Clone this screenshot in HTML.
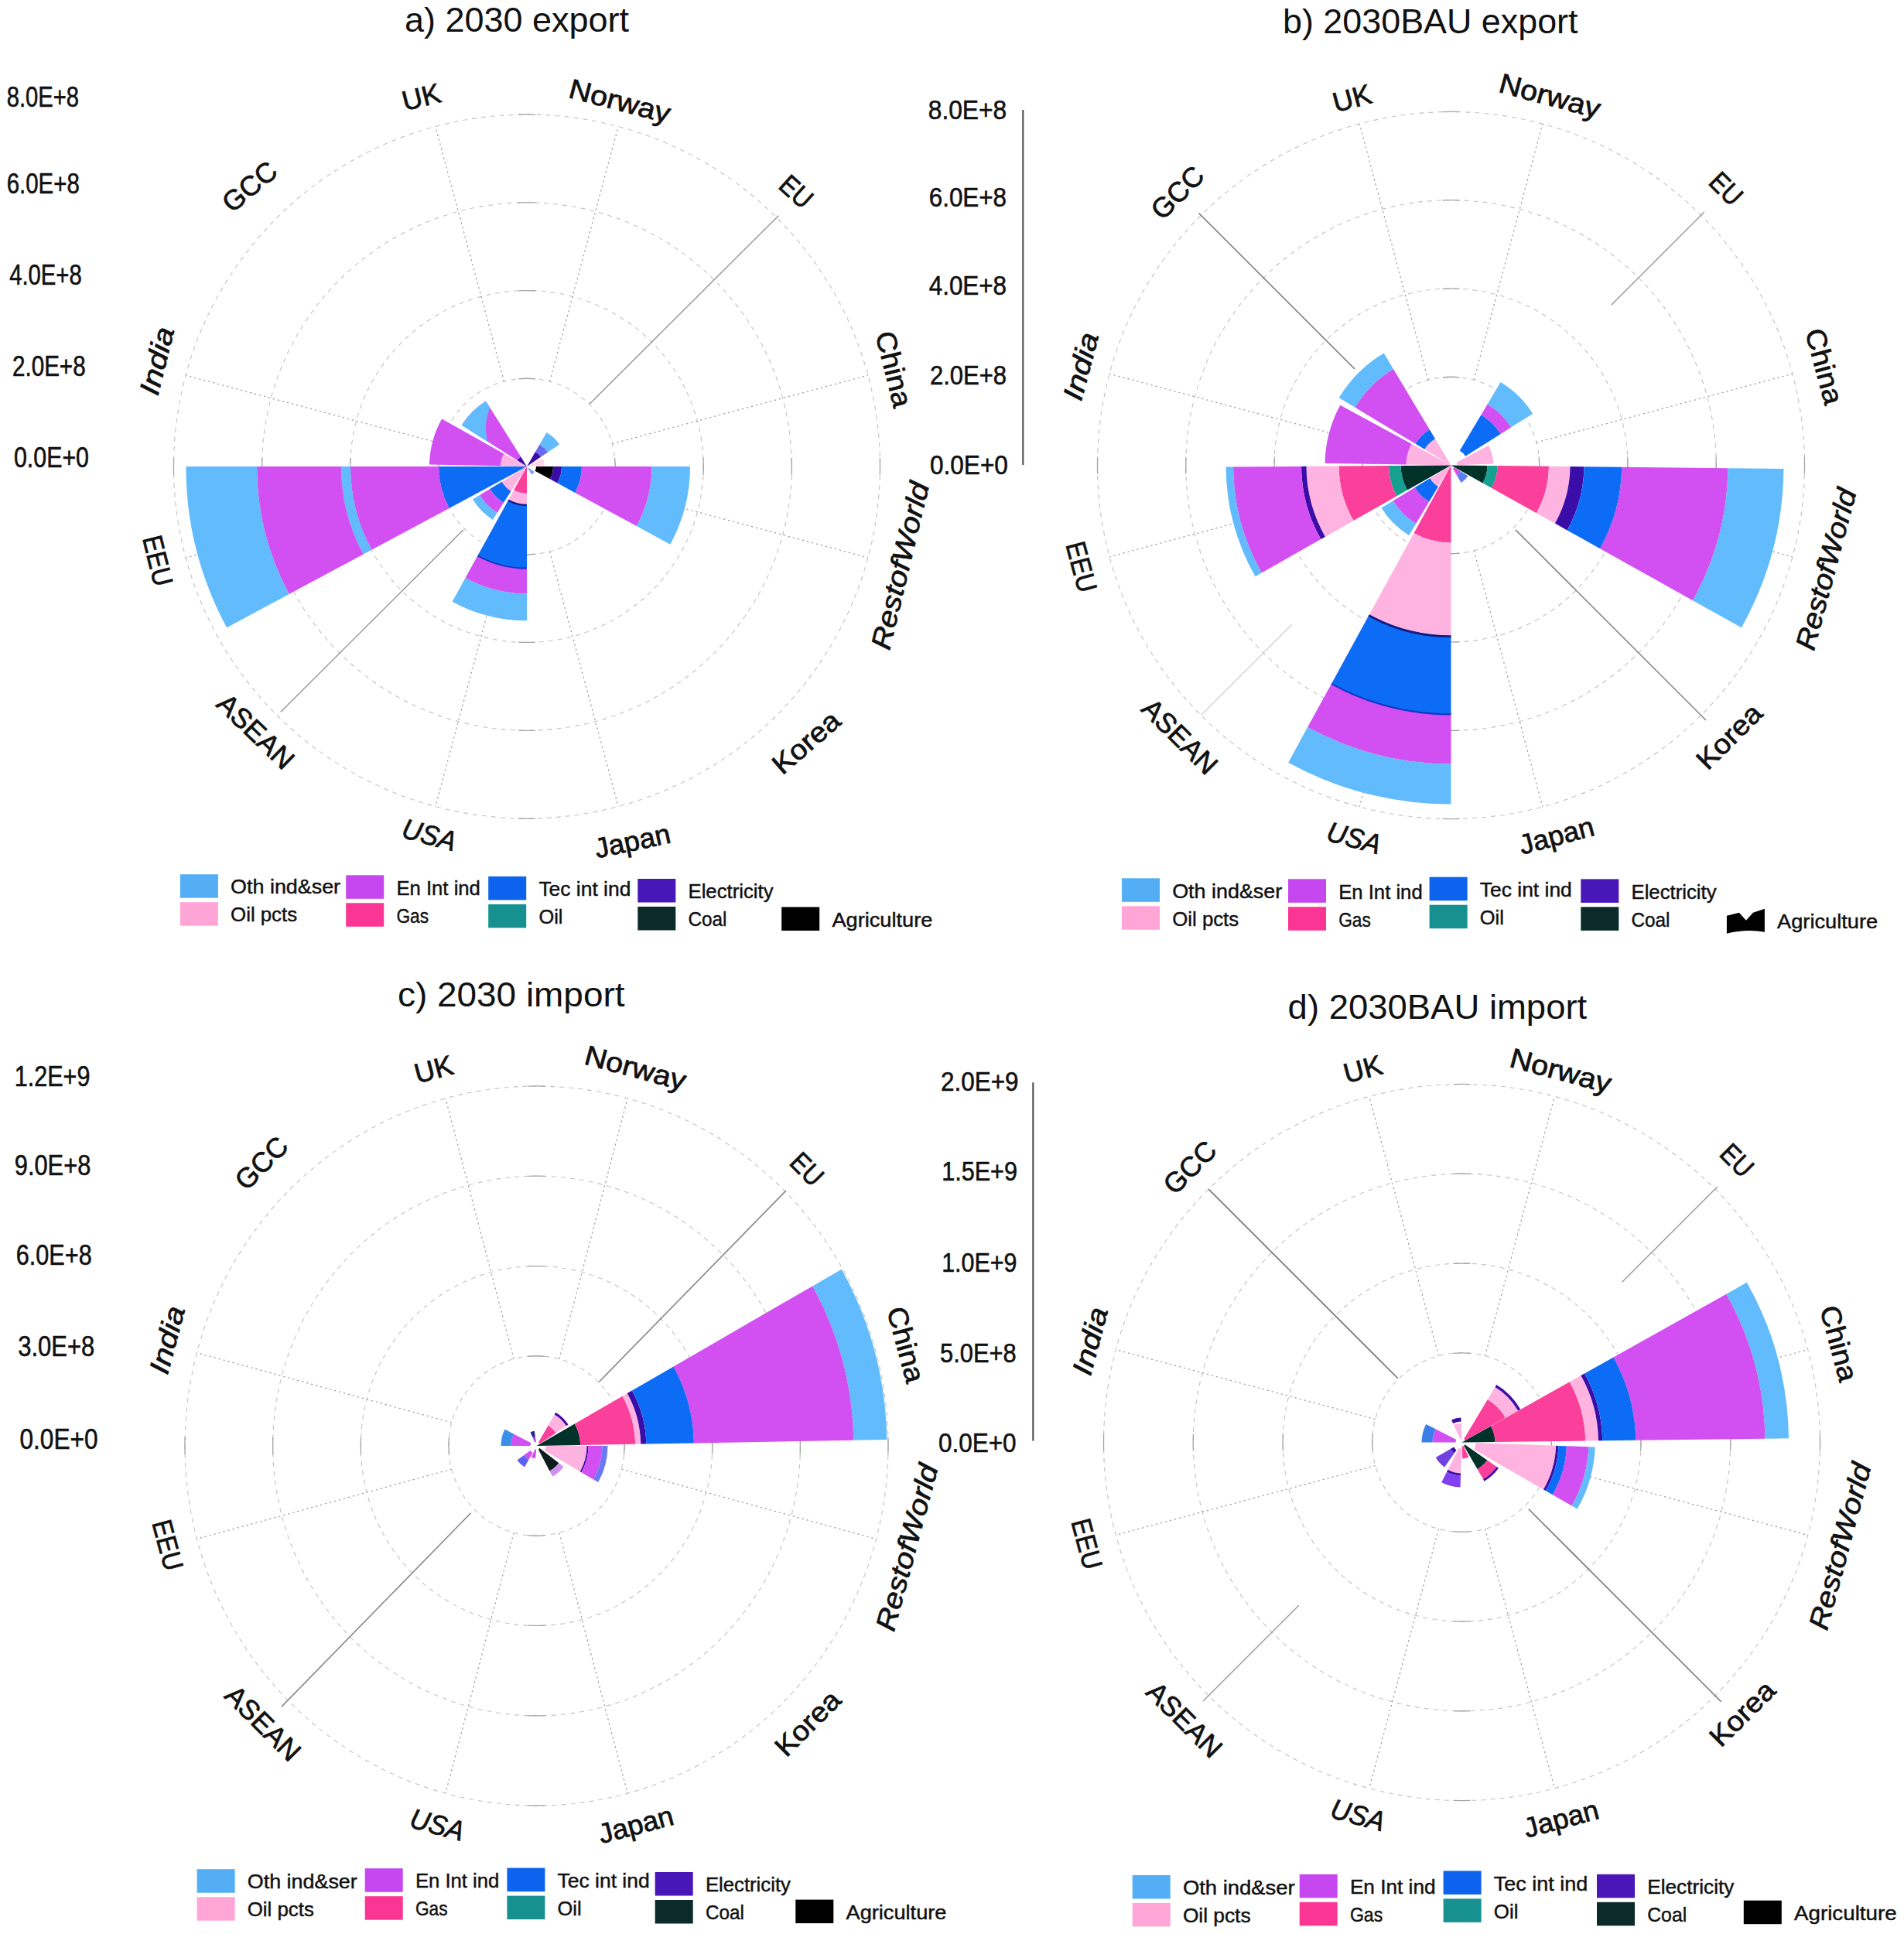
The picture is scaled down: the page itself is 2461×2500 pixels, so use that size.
<!DOCTYPE html>
<html><head><meta charset="utf-8"><title>Trade charts</title>
<style>html,body{margin:0;padding:0;background:#fff}svg{display:block}text{font-family:'Liberation Sans', sans-serif;fill:#111}</style>
</head><body>
<svg width="2461" height="2500" viewBox="0 0 2461 2500">
<defs><filter id="soft" x="-5%" y="-5%" width="110%" height="110%"><feGaussianBlur stdDeviation="0.7"/></filter></defs>
<rect width="2461" height="2500" fill="#fff"/>
<g>
<ellipse cx="681" cy="603" rx="114.1" ry="113.8" fill="none" stroke="#c2c2c2" stroke-width="1.1" stroke-dasharray="6 6"/>
<ellipse cx="681" cy="603" rx="228.2" ry="227.5" fill="none" stroke="#c2c2c2" stroke-width="1.1" stroke-dasharray="6 6"/>
<ellipse cx="681" cy="603" rx="342.4" ry="341.2" fill="none" stroke="#c2c2c2" stroke-width="1.1" stroke-dasharray="6 6"/>
<ellipse cx="681" cy="603" rx="456.5" ry="455.0" fill="none" stroke="#c2c2c2" stroke-width="1.1" stroke-dasharray="6 6"/>
<path d="M670.0,489.8A114.1,113.8 0 0 1 692.0,489.8" fill="none" stroke="#a4a4a4" stroke-width="1.3"/>
<path d="M794.6,592.1A114.1,113.8 0 0 1 794.6,613.9" fill="none" stroke="#a4a4a4" stroke-width="1.3"/>
<path d="M692.0,716.2A114.1,113.8 0 0 1 670.0,716.2" fill="none" stroke="#a4a4a4" stroke-width="1.3"/>
<path d="M567.4,613.9A114.1,113.8 0 0 1 567.4,592.1" fill="none" stroke="#a4a4a4" stroke-width="1.3"/>
<path d="M670.0,375.8A228.2,227.5 0 0 1 692.0,375.8" fill="none" stroke="#a4a4a4" stroke-width="1.3"/>
<path d="M909.0,592.0A228.2,227.5 0 0 1 909.0,614.0" fill="none" stroke="#a4a4a4" stroke-width="1.3"/>
<path d="M692.0,830.2A228.2,227.5 0 0 1 670.0,830.2" fill="none" stroke="#a4a4a4" stroke-width="1.3"/>
<path d="M453.0,614.0A228.2,227.5 0 0 1 453.0,592.0" fill="none" stroke="#a4a4a4" stroke-width="1.3"/>
<path d="M670.0,261.9A342.4,341.2 0 0 1 692.0,261.9" fill="none" stroke="#a4a4a4" stroke-width="1.3"/>
<path d="M1023.2,592.0A342.4,341.2 0 0 1 1023.2,614.0" fill="none" stroke="#a4a4a4" stroke-width="1.3"/>
<path d="M692.0,944.1A342.4,341.2 0 0 1 670.0,944.1" fill="none" stroke="#a4a4a4" stroke-width="1.3"/>
<path d="M338.8,614.0A342.4,341.2 0 0 1 338.8,592.0" fill="none" stroke="#a4a4a4" stroke-width="1.3"/>
<path d="M670.0,148.1A456.5,455.0 0 0 1 692.0,148.1" fill="none" stroke="#a4a4a4" stroke-width="1.3"/>
<path d="M1137.4,592.0A456.5,455.0 0 0 1 1137.4,614.0" fill="none" stroke="#a4a4a4" stroke-width="1.3"/>
<path d="M692.0,1057.9A456.5,455.0 0 0 1 670.0,1057.9" fill="none" stroke="#a4a4a4" stroke-width="1.3"/>
<path d="M224.6,614.0A456.5,455.0 0 0 1 224.6,592.0" fill="none" stroke="#a4a4a4" stroke-width="1.3"/>
<line x1="651.5" y1="493.1" x2="562.8" y2="163.5" stroke="#9e9e9e" stroke-width="1.2" stroke-dasharray="2.4 3.8"/>
<line x1="710.5" y1="493.1" x2="799.2" y2="163.5" stroke="#9e9e9e" stroke-width="1.2" stroke-dasharray="2.4 3.8"/>
<line x1="791.2" y1="573.6" x2="1121.9" y2="485.2" stroke="#9e9e9e" stroke-width="1.2" stroke-dasharray="2.4 3.8"/>
<line x1="791.2" y1="632.4" x2="1121.9" y2="720.8" stroke="#9e9e9e" stroke-width="1.2" stroke-dasharray="2.4 3.8"/>
<line x1="710.5" y1="712.9" x2="799.2" y2="1042.5" stroke="#9e9e9e" stroke-width="1.2" stroke-dasharray="2.4 3.8"/>
<line x1="651.5" y1="712.9" x2="562.8" y2="1042.5" stroke="#9e9e9e" stroke-width="1.2" stroke-dasharray="2.4 3.8"/>
<line x1="570.8" y1="632.4" x2="240.1" y2="720.8" stroke="#9e9e9e" stroke-width="1.2" stroke-dasharray="2.4 3.8"/>
<line x1="570.8" y1="573.6" x2="240.1" y2="485.2" stroke="#9e9e9e" stroke-width="1.2" stroke-dasharray="2.4 3.8"/>
<line x1="762.3" y1="521.9" x2="1006.3" y2="278.8" stroke="#999" stroke-width="1.5"/>
<line x1="599.0" y1="684.8" x2="362.8" y2="920.2" stroke="#999" stroke-width="1.5"/>
<g filter="url(#soft)">
<path d="M681.0,603.0L580.6,656.9A114.0,113.6 0 0 1 567.0,603.0Z" fill="#0f6cf5"/>
<path d="M580.6,656.9L480.3,710.7A228.0,227.3 0 0 1 453.0,603.0L567.0,603.0A114.0,113.6 0 0 0 580.6,656.9Z" fill="#d24ff2"/>
<path d="M480.3,710.7L469.7,716.4A240.0,239.2 0 0 1 441.0,603.0L453.0,603.0A228.0,227.3 0 0 0 480.3,710.7Z" fill="#62bbfc"/>
<path d="M469.7,716.4L373.7,767.9A349.0,347.9 0 0 1 332.0,603.0L441.0,603.0A240.0,239.2 0 0 0 469.7,716.4Z" fill="#d24ff2"/>
<path d="M373.7,767.9L293.1,811.2A440.6,439.2 0 0 1 240.4,603.0L332.0,603.0A349.0,347.9 0 0 0 373.7,767.9Z" fill="#62bbfc"/>
<path d="M681.0,603.0L681.0,637.9A35.0,34.9 0 0 1 664.1,633.6Z" fill="#fb3f9c"/>
<path d="M681.0,637.9L681.0,652.8A50.0,49.8 0 0 1 656.9,646.7L664.1,633.6A35.0,34.9 0 0 0 681.0,637.9Z" fill="#ffb3e0"/>
<path d="M681.0,652.8L681.0,734.6A132.0,131.6 0 0 1 617.4,718.3L656.9,646.7A50.0,49.8 0 0 0 681.0,652.8Z" fill="#0f6cf5"/>
<path d="M681.0,734.6L681.0,767.5A165.0,164.5 0 0 1 601.5,747.1L617.4,718.3A132.0,131.6 0 0 0 681.0,734.6Z" fill="#d24ff2"/>
<path d="M681.0,767.5L681.0,802.3A200.0,199.3 0 0 1 584.6,777.7L601.5,747.1A165.0,164.5 0 0 0 681.0,767.5Z" fill="#62bbfc"/>
<path d="M681.0,651.8L681.0,654.0A51.2,51.0 0 0 1 656.3,647.7L657.4,645.8A49.0,48.8 0 0 0 681.0,651.8Z" fill="#0b1a86"/>
<path d="M681.0,733.6L681.0,735.6A133.0,132.6 0 0 1 616.9,719.2L617.9,717.4A131.0,130.6 0 0 0 681.0,733.6Z" fill="#1235c4"/>
<path d="M693.0,603.0L715.0,603.0A34.0,33.9 0 0 1 710.9,619.2L691.5,608.7A12.0,12.0 0 0 0 693.0,603.0Z" fill="#000000"/>
<path d="M715.0,603.0L726.0,603.0A45.0,44.9 0 0 1 720.5,624.5L710.9,619.2A34.0,33.9 0 0 0 715.0,603.0Z" fill="#3a10a8"/>
<path d="M726.0,603.0L752.0,603.0A71.0,70.8 0 0 1 743.3,636.9L720.5,624.5A45.0,44.9 0 0 0 726.0,603.0Z" fill="#0f6cf5"/>
<path d="M752.0,603.0L842.5,603.0A161.5,161.0 0 0 1 822.8,680.1L743.3,636.9A71.0,70.8 0 0 0 752.0,603.0Z" fill="#d24ff2"/>
<path d="M842.5,603.0L892.0,603.0A211.0,210.3 0 0 1 866.3,703.7L822.8,680.1A161.5,161.0 0 0 0 842.5,603.0Z" fill="#62bbfc"/>
<path d="M681.0,603.0L647.0,602.3A34.0,33.9 0 0 1 651.3,586.4Z" fill="#ffb3e0"/>
<path d="M647.0,602.3L555.0,600.4A126.0,125.6 0 0 1 571.1,541.5L651.3,586.4A34.0,33.9 0 0 0 647.0,602.3Z" fill="#d24ff2"/>
<path d="M681.0,603.0L668.3,595.0A15.0,15.0 0 0 1 673.1,590.3Z" fill="#3a10a8"/>
<path d="M668.3,595.0L596.7,549.4A100.0,99.7 0 0 1 628.0,518.5L673.1,590.3A15.0,15.0 0 0 0 668.3,595.0Z" fill="#d24ff2"/>
<path d="M630.4,570.9L630.0,569.2L629.6,567.6L629.2,565.9L628.9,564.2L628.7,562.5L628.5,560.8L628.3,559.0L628.2,557.2L628.1,555.4L628.1,553.6L628.1,551.8L628.2,549.9L628.3,548.0L628.5,546.2L628.8,544.3L629.0,542.4L629.4,540.5L629.8,538.5L630.2,536.6L630.7,534.7L631.3,532.7L631.9,530.8L632.6,528.9L633.3,526.9L628.0,518.5A100.0,99.7 0 0 0 596.7,549.4Z" fill="#62bbfc"/>
<path d="M681.0,603.0L660.5,634.9A38.0,37.9 0 0 1 648.6,622.7Z" fill="#ffb3e0"/>
<path d="M660.5,634.9L650.8,650.0A56.0,55.8 0 0 1 633.2,632.1L648.6,622.7A38.0,37.9 0 0 0 660.5,634.9Z" fill="#0f6cf5"/>
<path d="M650.8,650.0L642.5,663.0A71.5,71.3 0 0 1 620.0,640.1L633.2,632.1A56.0,55.8 0 0 0 650.8,650.0Z" fill="#d24ff2"/>
<path d="M642.5,663.0L636.8,671.9A82.0,81.7 0 0 1 611.0,645.6L620.0,640.1A71.5,71.3 0 0 0 642.5,663.0Z" fill="#62bbfc"/>
<path d="M681.0,603.0L692.0,584.0A22.0,21.9 0 0 1 699.2,590.6Z" fill="#3a10a8"/>
<path d="M692.0,584.0L697.5,574.5A33.0,32.9 0 0 1 708.3,584.5L699.2,590.6A22.0,21.9 0 0 0 692.0,584.0Z" fill="#6a6af0"/>
<path d="M697.5,574.5L706.5,559.0A51.0,50.8 0 0 1 723.1,574.4L708.3,584.5A33.0,32.9 0 0 0 697.5,574.5Z" fill="#62bbfc"/>
<path d="M685.4,600.7L701.3,592.2A23.0,22.9 0 0 1 704.0,602.2L686.0,602.8A5.0,5.0 0 0 0 685.4,600.7Z" fill="#ffd5ea"/>
<path d="M683.5,604.7L690.8,609.9A12.0,12.0 0 0 1 687.0,613.4L682.5,605.6A3.0,3.0 0 0 0 683.5,604.7Z" fill="#7aa0f5"/>
</g>
<text transform="translate(544.3,124.8) rotate(-14)" text-anchor="middle" font-size="36" textLength="50" lengthAdjust="spacingAndGlyphs" dy="13.0" stroke="#111" stroke-width="0.75">UK</text>
<text transform="translate(801.4,130.0) rotate(14.5)" text-anchor="middle" font-size="36" textLength="134" lengthAdjust="spacingAndGlyphs" dy="13.0" stroke="#111" stroke-width="0.75">Norway</text>
<text transform="translate(1029.5,247.2) rotate(42)" text-anchor="middle" font-size="36" textLength="44" lengthAdjust="spacingAndGlyphs" dy="13.0" stroke="#111" stroke-width="0.75">EU</text>
<text transform="translate(1156.0,477.0) rotate(76)" text-anchor="middle" font-size="36" textLength="100" lengthAdjust="spacingAndGlyphs" dy="13.0" stroke="#111" stroke-width="0.75">China</text>
<text transform="translate(1162.8,731.1) rotate(-76.5)" text-anchor="middle" font-size="36" textLength="221" lengthAdjust="spacingAndGlyphs" dy="13.0" font-style="italic" stroke="#111" stroke-width="0.75">RestofWorld</text>
<text transform="translate(1041.6,959.2) rotate(-41)" text-anchor="middle" font-size="36" textLength="103" lengthAdjust="spacingAndGlyphs" dy="13.0" stroke="#111" stroke-width="0.75">Korea</text>
<text transform="translate(817.3,1086.6) rotate(-12)" text-anchor="middle" font-size="36" textLength="99" lengthAdjust="spacingAndGlyphs" dy="13.0" stroke="#111" stroke-width="0.75">Japan</text>
<text transform="translate(555.1,1078.7) rotate(15)" text-anchor="middle" font-size="36" textLength="71" lengthAdjust="spacingAndGlyphs" dy="13.0" font-style="italic" stroke="#111" stroke-width="0.75">USA</text>
<text transform="translate(331.0,945.0) rotate(44)" text-anchor="middle" font-size="36" textLength="122" lengthAdjust="spacingAndGlyphs" dy="13.0" stroke="#111" stroke-width="0.75">ASEAN</text>
<text transform="translate(204.5,724.7) rotate(76)" text-anchor="middle" font-size="36" textLength="66" lengthAdjust="spacingAndGlyphs" dy="13.0" stroke="#111" stroke-width="0.75">EEU</text>
<text transform="translate(202.1,466.4) rotate(-76)" text-anchor="middle" font-size="36" textLength="89" lengthAdjust="spacingAndGlyphs" dy="13.0" font-style="italic" stroke="#111" stroke-width="0.75">India</text>
<text transform="translate(322.2,240.7) rotate(-40)" text-anchor="middle" font-size="36" textLength="80" lengthAdjust="spacingAndGlyphs" dy="13.0" stroke="#111" stroke-width="0.75">GCC</text>
<text x="523" y="41" font-size="44" textLength="290" lengthAdjust="spacingAndGlyphs" fill="#222">a) 2030 export</text>
<text x="8.7" y="137.9" font-size="36" textLength="93.3" lengthAdjust="spacingAndGlyphs" stroke="#111" stroke-width="0.6">8.0E+8</text>
<text x="8.7" y="250.3" font-size="36" textLength="94.1" lengthAdjust="spacingAndGlyphs" stroke="#111" stroke-width="0.6">6.0E+8</text>
<text x="12.2" y="368" font-size="36" textLength="93.5" lengthAdjust="spacingAndGlyphs" stroke="#111" stroke-width="0.6">4.0E+8</text>
<text x="16" y="486" font-size="36" textLength="94.6" lengthAdjust="spacingAndGlyphs" stroke="#111" stroke-width="0.6">2.0E+8</text>
<text x="18" y="604" font-size="36" textLength="97.0" lengthAdjust="spacingAndGlyphs" stroke="#111" stroke-width="0.6">0.0E+0</text>
<g transform="translate(232.9,1130.2)">
<rect x="0" y="0" width="49" height="30.5" fill="#52aef6" filter="url(#soft)"/>
<text x="65.2" y="25.3" font-size="26" textLength="142.0" lengthAdjust="spacingAndGlyphs" fill="#111" stroke="#111" stroke-width="0.45">Oth ind&amp;ser</text>
<rect x="0" y="36" width="49" height="30.5" fill="#ffa6d6" filter="url(#soft)"/>
<text x="65.2" y="61.3" font-size="26" textLength="86.0" lengthAdjust="spacingAndGlyphs" fill="#111" stroke="#111" stroke-width="0.45">Oil pcts</text>
<rect x="214.3" y="1.1" width="49" height="30.5" fill="#c646f0" filter="url(#soft)"/>
<text x="279.5" y="26.4" font-size="26" textLength="108.5" lengthAdjust="spacingAndGlyphs" fill="#111" stroke="#111" stroke-width="0.45">En Int ind</text>
<rect x="214.3" y="37.1" width="49" height="30.5" fill="#fb3593" filter="url(#soft)"/>
<text x="279.5" y="62.4" font-size="26" textLength="41.6" lengthAdjust="spacingAndGlyphs" fill="#111" stroke="#111" stroke-width="0.45">Gas</text>
<rect x="398.3" y="2.7" width="49" height="30.5" fill="#0f62ee" filter="url(#soft)"/>
<text x="463.5" y="28.0" font-size="26" textLength="119.0" lengthAdjust="spacingAndGlyphs" fill="#111" stroke="#111" stroke-width="0.45">Tec int ind</text>
<rect x="398.3" y="38.7" width="49" height="30.5" fill="#12918f" filter="url(#soft)"/>
<text x="463.5" y="64.0" font-size="26" textLength="31.0" lengthAdjust="spacingAndGlyphs" fill="#111" stroke="#111" stroke-width="0.45">Oil</text>
<rect x="591.4" y="5.8" width="49" height="30.5" fill="#4a12b8" filter="url(#soft)"/>
<text x="656.6" y="31.1" font-size="26" textLength="110.0" lengthAdjust="spacingAndGlyphs" fill="#111" stroke="#111" stroke-width="0.45">Electricity</text>
<rect x="591.4" y="41.8" width="49" height="30.5" fill="#072c2c" filter="url(#soft)"/>
<text x="656.6" y="67.1" font-size="26" textLength="50.0" lengthAdjust="spacingAndGlyphs" fill="#111" stroke="#111" stroke-width="0.45">Coal</text>
<rect x="777.3" y="42.3" width="49" height="30.5" fill="#000000" filter="url(#soft)"/>
<text x="842.5" y="67.6" font-size="26" textLength="130.0" lengthAdjust="spacingAndGlyphs" fill="#111" stroke="#111" stroke-width="0.45">Agriculture</text>
</g>
</g>
<g>
<ellipse cx="1875.5" cy="601.5" rx="114.2" ry="114.2" fill="none" stroke="#c2c2c2" stroke-width="1.1" stroke-dasharray="6 6"/>
<ellipse cx="1875.5" cy="601.5" rx="228.5" ry="228.5" fill="none" stroke="#c2c2c2" stroke-width="1.1" stroke-dasharray="6 6"/>
<ellipse cx="1875.5" cy="601.5" rx="342.8" ry="342.8" fill="none" stroke="#c2c2c2" stroke-width="1.1" stroke-dasharray="6 6"/>
<ellipse cx="1875.5" cy="601.5" rx="457.0" ry="457.0" fill="none" stroke="#c2c2c2" stroke-width="1.1" stroke-dasharray="6 6"/>
<path d="M1864.5,487.8A114.2,114.2 0 0 1 1886.5,487.8" fill="none" stroke="#a4a4a4" stroke-width="1.3"/>
<path d="M1989.2,590.5A114.2,114.2 0 0 1 1989.2,612.5" fill="none" stroke="#a4a4a4" stroke-width="1.3"/>
<path d="M1886.5,715.2A114.2,114.2 0 0 1 1864.5,715.2" fill="none" stroke="#a4a4a4" stroke-width="1.3"/>
<path d="M1761.8,612.5A114.2,114.2 0 0 1 1761.8,590.5" fill="none" stroke="#a4a4a4" stroke-width="1.3"/>
<path d="M1864.5,373.3A228.5,228.5 0 0 1 1886.5,373.3" fill="none" stroke="#a4a4a4" stroke-width="1.3"/>
<path d="M2103.7,590.5A228.5,228.5 0 0 1 2103.7,612.5" fill="none" stroke="#a4a4a4" stroke-width="1.3"/>
<path d="M1886.5,829.7A228.5,228.5 0 0 1 1864.5,829.7" fill="none" stroke="#a4a4a4" stroke-width="1.3"/>
<path d="M1647.3,612.5A228.5,228.5 0 0 1 1647.3,590.5" fill="none" stroke="#a4a4a4" stroke-width="1.3"/>
<path d="M1864.5,258.9A342.8,342.8 0 0 1 1886.5,258.9" fill="none" stroke="#a4a4a4" stroke-width="1.3"/>
<path d="M2218.1,590.5A342.8,342.8 0 0 1 2218.1,612.5" fill="none" stroke="#a4a4a4" stroke-width="1.3"/>
<path d="M1886.5,944.1A342.8,342.8 0 0 1 1864.5,944.1" fill="none" stroke="#a4a4a4" stroke-width="1.3"/>
<path d="M1532.9,612.5A342.8,342.8 0 0 1 1532.9,590.5" fill="none" stroke="#a4a4a4" stroke-width="1.3"/>
<path d="M1864.5,144.6A457.0,457.0 0 0 1 1886.5,144.6" fill="none" stroke="#a4a4a4" stroke-width="1.3"/>
<path d="M2332.4,590.5A457.0,457.0 0 0 1 2332.4,612.5" fill="none" stroke="#a4a4a4" stroke-width="1.3"/>
<path d="M1886.5,1058.4A457.0,457.0 0 0 1 1864.5,1058.4" fill="none" stroke="#a4a4a4" stroke-width="1.3"/>
<path d="M1418.6,612.5A457.0,457.0 0 0 1 1418.6,590.5" fill="none" stroke="#a4a4a4" stroke-width="1.3"/>
<line x1="1845.9" y1="491.1" x2="1757.2" y2="160.1" stroke="#9e9e9e" stroke-width="1.2" stroke-dasharray="2.4 3.8"/>
<line x1="1905.1" y1="491.1" x2="1993.8" y2="160.1" stroke="#9e9e9e" stroke-width="1.2" stroke-dasharray="2.4 3.8"/>
<line x1="1985.9" y1="571.9" x2="2316.9" y2="483.2" stroke="#9e9e9e" stroke-width="1.2" stroke-dasharray="2.4 3.8"/>
<line x1="1985.9" y1="631.1" x2="2316.9" y2="719.8" stroke="#9e9e9e" stroke-width="1.2" stroke-dasharray="2.4 3.8"/>
<line x1="1905.1" y1="711.9" x2="1993.8" y2="1042.9" stroke="#9e9e9e" stroke-width="1.2" stroke-dasharray="2.4 3.8"/>
<line x1="1845.9" y1="711.9" x2="1757.2" y2="1042.9" stroke="#9e9e9e" stroke-width="1.2" stroke-dasharray="2.4 3.8"/>
<line x1="1765.1" y1="631.1" x2="1434.1" y2="719.8" stroke="#9e9e9e" stroke-width="1.2" stroke-dasharray="2.4 3.8"/>
<line x1="1765.1" y1="571.9" x2="1434.1" y2="483.2" stroke="#9e9e9e" stroke-width="1.2" stroke-dasharray="2.4 3.8"/>
<line x1="1751.0" y1="477.0" x2="1549.5" y2="275.5" stroke="#777" stroke-width="1.6"/>
<line x1="1958.9" y1="684.9" x2="2205.0" y2="931.0" stroke="#888" stroke-width="1.6"/>
<line x1="2082.7" y1="394.3" x2="2202.9" y2="274.1" stroke="#999" stroke-width="1.4"/>
<line x1="1669.7" y1="807.3" x2="1553.1" y2="923.9" stroke="#c8c8c8" stroke-width="1.2"/>
<g filter="url(#soft)">
<path d="M1875.5,601.5L1841.2,580.8A40.0,40.0 0 0 1 1855.0,567.2Z" fill="#ffb3e0"/>
<path d="M1841.2,580.8L1829.3,573.6A54.0,54.0 0 0 1 1847.8,555.2L1855.0,567.2A40.0,40.0 0 0 0 1841.2,580.8Z" fill="#0f6cf5"/>
<path d="M1829.3,573.6L1751.3,526.6A145.0,145.0 0 0 1 1801.0,477.1L1847.8,555.2A54.0,54.0 0 0 0 1829.3,573.6Z" fill="#d24ff2"/>
<path d="M1751.3,526.6L1730.8,514.2A169.0,169.0 0 0 1 1788.7,456.5L1801.0,477.1A145.0,145.0 0 0 0 1751.3,526.6Z" fill="#62bbfc"/>
<path d="M1875.5,601.5L1817.5,600.5A58.0,58.0 0 0 1 1824.5,573.8Z" fill="#ffb3e0"/>
<path d="M1817.5,600.5L1712.5,598.7A163.0,163.0 0 0 1 1732.3,523.7L1824.5,573.8A58.0,58.0 0 0 0 1817.5,600.5Z" fill="#d24ff2"/>
<path d="M1875.5,601.5L1819.0,633.6A65.0,65.0 0 0 1 1810.5,602.0Z" fill="#06302c"/>
<path d="M1819.0,633.6L1805.4,641.3A80.6,80.6 0 0 1 1794.9,602.1L1810.5,602.0A65.0,65.0 0 0 0 1819.0,633.6Z" fill="#15a090"/>
<path d="M1805.4,641.3L1749.4,673.1A145.0,145.0 0 0 1 1730.5,602.5L1794.9,602.1A80.6,80.6 0 0 0 1805.4,641.3Z" fill="#fb3f9c"/>
<path d="M1749.4,673.1L1712.9,693.9A187.0,187.0 0 0 1 1688.5,602.8L1730.5,602.5A145.0,145.0 0 0 0 1749.4,673.1Z" fill="#ffb3e0"/>
<path d="M1712.9,693.9L1707.3,697.1A193.5,193.5 0 0 1 1682.0,602.9L1688.5,602.8A187.0,187.0 0 0 0 1712.9,693.9Z" fill="#3a10a8"/>
<path d="M1707.3,697.1L1630.7,740.5A281.5,281.5 0 0 1 1594.0,603.5L1682.0,602.9A193.5,193.5 0 0 0 1707.3,697.1Z" fill="#d24ff2"/>
<path d="M1630.7,740.5L1622.5,745.2A291.0,291.0 0 0 1 1584.5,603.5L1594.0,603.5A281.5,281.5 0 0 0 1630.7,740.5Z" fill="#62bbfc"/>
<path d="M1875.5,601.5L1859.0,628.9A32.0,32.0 0 0 1 1848.2,618.2Z" fill="#ffb3e0"/>
<path d="M1859.0,628.9L1847.2,648.6A55.0,55.0 0 0 1 1828.6,630.2L1848.2,618.2A32.0,32.0 0 0 0 1859.0,628.9Z" fill="#0f6cf5"/>
<path d="M1847.2,648.6L1830.2,676.9A88.0,88.0 0 0 1 1800.5,647.5L1828.6,630.2A55.0,55.0 0 0 0 1847.2,648.6Z" fill="#d24ff2"/>
<path d="M1830.2,676.9L1821.2,691.9A105.5,105.5 0 0 1 1785.5,656.6L1800.5,647.5A88.0,88.0 0 0 0 1830.2,676.9Z" fill="#62bbfc"/>
<path d="M1875.5,601.5L1875.5,701.5A100.0,100.0 0 0 1 1827.5,689.2Z" fill="#fb3f9c"/>
<path d="M1875.5,701.5L1875.5,822.5A221.0,221.0 0 0 1 1769.4,795.3L1827.5,689.2A100.0,100.0 0 0 0 1875.5,701.5Z" fill="#ffb3e0"/>
<path d="M1875.5,822.5L1875.5,923.5A322.0,322.0 0 0 1 1720.9,883.9L1769.4,795.3A221.0,221.0 0 0 0 1875.5,822.5Z" fill="#0f6cf5"/>
<path d="M1875.5,923.5L1875.5,987.5A386.0,386.0 0 0 1 1690.1,940.1L1720.9,883.9A322.0,322.0 0 0 0 1875.5,923.5Z" fill="#d24ff2"/>
<path d="M1875.5,987.5L1875.5,1039.5A438.0,438.0 0 0 1 1665.2,985.7L1690.1,940.1A386.0,386.0 0 0 0 1875.5,987.5Z" fill="#62bbfc"/>
<path d="M1875.5,821.3L1875.5,824.1A222.6,222.6 0 0 1 1768.6,796.8L1769.9,794.3A219.8,219.8 0 0 0 1875.5,821.3Z" fill="#0b1a86"/>
<path d="M1875.5,922.3L1875.5,924.5A323.0,323.0 0 0 1 1720.4,884.8L1721.4,882.9A320.8,320.8 0 0 0 1875.5,922.3Z" fill="#1235c4"/>
<path d="M1875.5,601.5L1922.5,602.0A47.0,47.0 0 0 1 1916.5,624.4Z" fill="#06302c"/>
<path d="M1922.5,602.0L1935.5,602.1A60.0,60.0 0 0 1 1927.9,630.8L1916.5,624.4A47.0,47.0 0 0 0 1922.5,602.0Z" fill="#15a090"/>
<path d="M1935.5,602.1L2002.0,602.8A126.5,126.5 0 0 1 1985.9,663.2L1927.9,630.8A60.0,60.0 0 0 0 1935.5,602.1Z" fill="#fb3f9c"/>
<path d="M2002.0,602.8L2029.5,603.1A154.0,154.0 0 0 1 2009.9,676.6L1985.9,663.2A126.5,126.5 0 0 0 2002.0,602.8Z" fill="#ffb3e0"/>
<path d="M2029.5,603.1L2047.5,603.3A172.0,172.0 0 0 1 2025.6,685.4L2009.9,676.6A154.0,154.0 0 0 0 2029.5,603.1Z" fill="#3a10a8"/>
<path d="M2047.5,603.3L2096.2,603.8A220.7,220.7 0 0 1 2068.2,709.2L2025.6,685.4A172.0,172.0 0 0 0 2047.5,603.3Z" fill="#0f6cf5"/>
<path d="M2096.2,603.8L2233.5,605.2A358.0,358.0 0 0 1 2188.0,776.2L2068.2,709.2A220.7,220.7 0 0 0 2096.2,603.8Z" fill="#d24ff2"/>
<path d="M2233.5,605.2L2305.5,606.0A430.0,430.0 0 0 1 2250.9,811.3L2188.0,776.2A358.0,358.0 0 0 0 2233.5,605.2Z" fill="#62bbfc"/>
<path d="M1886.8,582.6L1914.4,536.2A76.0,76.0 0 0 1 1939.7,560.9L1894.1,589.7A22.0,22.0 0 0 0 1886.8,582.6Z" fill="#0f6cf5"/>
<path d="M1914.4,536.2L1922.6,522.5A92.0,92.0 0 0 1 1953.3,552.3L1939.7,560.9A76.0,76.0 0 0 0 1914.4,536.2Z" fill="#d24ff2"/>
<path d="M1922.6,522.5L1939.5,494.1A125.0,125.0 0 0 1 1981.2,534.7L1953.3,552.3A92.0,92.0 0 0 0 1922.6,522.5Z" fill="#62bbfc"/>
<path d="M1882.6,597.7L1924.1,575.7A55.0,55.0 0 0 1 1930.5,599.6L1883.5,601.2A8.0,8.0 0 0 0 1882.6,597.7Z" fill="#ffb3e0"/>
<path d="M1879.7,604.1L1888.2,609.4A15.0,15.0 0 0 1 1883.0,614.5L1878.0,605.8A5.0,5.0 0 0 0 1879.7,604.1Z" fill="#d24ff2"/>
<path d="M1888.2,609.4L1897.5,615.3A26.0,26.0 0 0 1 1888.5,624.0L1883.0,614.5A15.0,15.0 0 0 0 1888.2,609.4Z" fill="#5a80f0"/>
</g>
<text transform="translate(1747.4,126.4) rotate(-15)" text-anchor="middle" font-size="36" textLength="50" lengthAdjust="spacingAndGlyphs" dy="13.0" stroke="#111" stroke-width="0.75">UK</text>
<text transform="translate(2003.6,123.4) rotate(15)" text-anchor="middle" font-size="36" textLength="134" lengthAdjust="spacingAndGlyphs" dy="13.0" stroke="#111" stroke-width="0.75">Norway</text>
<text transform="translate(2231.5,243.5) rotate(45)" text-anchor="middle" font-size="36" textLength="44" lengthAdjust="spacingAndGlyphs" dy="13.0" stroke="#111" stroke-width="0.75">EU</text>
<text transform="translate(2358.6,473.4) rotate(75)" text-anchor="middle" font-size="36" textLength="100" lengthAdjust="spacingAndGlyphs" dy="13.0" stroke="#111" stroke-width="0.75">China</text>
<text transform="translate(2359.6,735.6) rotate(-75)" text-anchor="middle" font-size="36" textLength="214" lengthAdjust="spacingAndGlyphs" dy="13.0" font-style="italic" stroke="#111" stroke-width="0.75">RestofWorld</text>
<text transform="translate(2234.5,951.5) rotate(-45)" text-anchor="middle" font-size="36" textLength="103" lengthAdjust="spacingAndGlyphs" dy="13.0" stroke="#111" stroke-width="0.75">Korea</text>
<text transform="translate(2011.6,1079.6) rotate(-15)" text-anchor="middle" font-size="36" textLength="99" lengthAdjust="spacingAndGlyphs" dy="13.0" stroke="#111" stroke-width="0.75">Japan</text>
<text transform="translate(1750.4,1082.6) rotate(15)" text-anchor="middle" font-size="36" textLength="71" lengthAdjust="spacingAndGlyphs" dy="13.0" font-style="italic" stroke="#111" stroke-width="0.75">USA</text>
<text transform="translate(1525.5,951.5) rotate(45)" text-anchor="middle" font-size="36" textLength="121" lengthAdjust="spacingAndGlyphs" dy="13.0" stroke="#111" stroke-width="0.75">ASEAN</text>
<text transform="translate(1398.4,732.6) rotate(75)" text-anchor="middle" font-size="36" textLength="66" lengthAdjust="spacingAndGlyphs" dy="13.0" stroke="#111" stroke-width="0.75">EEU</text>
<text transform="translate(1396.4,473.4) rotate(-75)" text-anchor="middle" font-size="36" textLength="89" lengthAdjust="spacingAndGlyphs" dy="13.0" font-style="italic" stroke="#111" stroke-width="0.75">India</text>
<text transform="translate(1521.5,248.5) rotate(-45)" text-anchor="middle" font-size="36" textLength="80" lengthAdjust="spacingAndGlyphs" dy="13.0" stroke="#111" stroke-width="0.75">GCC</text>
<text x="1658" y="42.6" font-size="44" textLength="381.5" lengthAdjust="spacingAndGlyphs" fill="#222">b) 2030BAU export</text>
<text x="1199.8" y="154.4" font-size="35" textLength="101.3" lengthAdjust="spacingAndGlyphs" stroke="#111" stroke-width="0.6">8.0E+8</text>
<text x="1200.7" y="267.4" font-size="35" textLength="100.4" lengthAdjust="spacingAndGlyphs" stroke="#111" stroke-width="0.6">6.0E+8</text>
<text x="1200.7" y="380.9" font-size="35" textLength="100.4" lengthAdjust="spacingAndGlyphs" stroke="#111" stroke-width="0.6">4.0E+8</text>
<text x="1202" y="497.3" font-size="35" textLength="99.1" lengthAdjust="spacingAndGlyphs" stroke="#111" stroke-width="0.6">2.0E+8</text>
<text x="1202" y="613.1" font-size="35" textLength="100.9" lengthAdjust="spacingAndGlyphs" stroke="#111" stroke-width="0.6">0.0E+0</text>
<line x1="1322.3" y1="142" x2="1322.3" y2="601" stroke="#4a4a4a" stroke-width="2"/>
<g transform="translate(1450,1135.3)">
<rect x="0" y="0" width="49" height="30.5" fill="#52aef6" filter="url(#soft)"/>
<text x="65.2" y="25.3" font-size="26" textLength="142.0" lengthAdjust="spacingAndGlyphs" fill="#111" stroke="#111" stroke-width="0.45">Oth ind&amp;ser</text>
<rect x="0" y="36" width="49" height="30.5" fill="#ffa6d6" filter="url(#soft)"/>
<text x="65.2" y="61.3" font-size="26" textLength="86.0" lengthAdjust="spacingAndGlyphs" fill="#111" stroke="#111" stroke-width="0.45">Oil pcts</text>
<rect x="215" y="1" width="49" height="30.5" fill="#c646f0" filter="url(#soft)"/>
<text x="280.2" y="26.3" font-size="26" textLength="108.5" lengthAdjust="spacingAndGlyphs" fill="#111" stroke="#111" stroke-width="0.45">En Int ind</text>
<rect x="215" y="37" width="49" height="30.5" fill="#fb3593" filter="url(#soft)"/>
<text x="280.2" y="62.3" font-size="26" textLength="41.6" lengthAdjust="spacingAndGlyphs" fill="#111" stroke="#111" stroke-width="0.45">Gas</text>
<rect x="397.6" y="-1.6" width="49" height="30.5" fill="#0f62ee" filter="url(#soft)"/>
<text x="462.8" y="23.7" font-size="26" textLength="119.0" lengthAdjust="spacingAndGlyphs" fill="#111" stroke="#111" stroke-width="0.45">Tec int ind</text>
<rect x="397.6" y="34.4" width="49" height="30.5" fill="#12918f" filter="url(#soft)"/>
<text x="462.8" y="59.7" font-size="26" textLength="31.0" lengthAdjust="spacingAndGlyphs" fill="#111" stroke="#111" stroke-width="0.45">Oil</text>
<rect x="593.3" y="1.1" width="49" height="30.5" fill="#4a12b8" filter="url(#soft)"/>
<text x="658.5" y="26.4" font-size="26" textLength="110.0" lengthAdjust="spacingAndGlyphs" fill="#111" stroke="#111" stroke-width="0.45">Electricity</text>
<rect x="593.3" y="37.1" width="49" height="30.5" fill="#072c2c" filter="url(#soft)"/>
<text x="658.5" y="62.4" font-size="26" textLength="50.0" lengthAdjust="spacingAndGlyphs" fill="#111" stroke="#111" stroke-width="0.45">Coal</text>
<path transform="translate(781.9,39.4)" d="M0,9 L16,5 L25,15 L34,5 L49,0 L49,30 Q25,26 0,32 Z" fill="#000"/>
<text x="847.1" y="64.7" font-size="26" textLength="130.0" lengthAdjust="spacingAndGlyphs" fill="#111" stroke="#111" stroke-width="0.45">Agriculture</text>
</g>
</g>
<g>
<ellipse cx="693.5" cy="1869" rx="113.6" ry="116.2" fill="none" stroke="#c2c2c2" stroke-width="1.1" stroke-dasharray="6 6"/>
<ellipse cx="693.5" cy="1869" rx="227.2" ry="232.5" fill="none" stroke="#c2c2c2" stroke-width="1.1" stroke-dasharray="6 6"/>
<ellipse cx="693.5" cy="1869" rx="340.9" ry="348.8" fill="none" stroke="#c2c2c2" stroke-width="1.1" stroke-dasharray="6 6"/>
<ellipse cx="693.5" cy="1869" rx="454.5" ry="465.0" fill="none" stroke="#c2c2c2" stroke-width="1.1" stroke-dasharray="6 6"/>
<path d="M682.5,1753.3A113.6,116.2 0 0 1 704.5,1753.3" fill="none" stroke="#a4a4a4" stroke-width="1.3"/>
<path d="M806.6,1857.8A113.6,116.2 0 0 1 806.6,1880.2" fill="none" stroke="#a4a4a4" stroke-width="1.3"/>
<path d="M704.5,1984.7A113.6,116.2 0 0 1 682.5,1984.7" fill="none" stroke="#a4a4a4" stroke-width="1.3"/>
<path d="M580.4,1880.2A113.6,116.2 0 0 1 580.4,1857.8" fill="none" stroke="#a4a4a4" stroke-width="1.3"/>
<path d="M682.5,1636.8A227.2,232.5 0 0 1 704.5,1636.8" fill="none" stroke="#a4a4a4" stroke-width="1.3"/>
<path d="M920.5,1857.8A227.2,232.5 0 0 1 920.5,1880.2" fill="none" stroke="#a4a4a4" stroke-width="1.3"/>
<path d="M704.5,2101.2A227.2,232.5 0 0 1 682.5,2101.2" fill="none" stroke="#a4a4a4" stroke-width="1.3"/>
<path d="M466.5,1880.2A227.2,232.5 0 0 1 466.5,1857.8" fill="none" stroke="#a4a4a4" stroke-width="1.3"/>
<path d="M682.5,1520.4A340.9,348.8 0 0 1 704.5,1520.4" fill="none" stroke="#a4a4a4" stroke-width="1.3"/>
<path d="M1034.2,1857.7A340.9,348.8 0 0 1 1034.2,1880.3" fill="none" stroke="#a4a4a4" stroke-width="1.3"/>
<path d="M704.5,2217.6A340.9,348.8 0 0 1 682.5,2217.6" fill="none" stroke="#a4a4a4" stroke-width="1.3"/>
<path d="M352.8,1880.3A340.9,348.8 0 0 1 352.8,1857.7" fill="none" stroke="#a4a4a4" stroke-width="1.3"/>
<path d="M682.5,1404.1A454.5,465.0 0 0 1 704.5,1404.1" fill="none" stroke="#a4a4a4" stroke-width="1.3"/>
<path d="M1147.9,1857.7A454.5,465.0 0 0 1 1147.9,1880.3" fill="none" stroke="#a4a4a4" stroke-width="1.3"/>
<path d="M704.5,2333.9A454.5,465.0 0 0 1 682.5,2333.9" fill="none" stroke="#a4a4a4" stroke-width="1.3"/>
<path d="M239.1,1880.3A454.5,465.0 0 0 1 239.1,1857.7" fill="none" stroke="#a4a4a4" stroke-width="1.3"/>
<line x1="664.1" y1="1756.7" x2="575.9" y2="1419.8" stroke="#9e9e9e" stroke-width="1.2" stroke-dasharray="2.4 3.8"/>
<line x1="722.9" y1="1756.7" x2="811.1" y2="1419.8" stroke="#9e9e9e" stroke-width="1.2" stroke-dasharray="2.4 3.8"/>
<line x1="803.3" y1="1838.9" x2="1132.5" y2="1748.6" stroke="#9e9e9e" stroke-width="1.2" stroke-dasharray="2.4 3.8"/>
<line x1="803.3" y1="1899.1" x2="1132.5" y2="1989.4" stroke="#9e9e9e" stroke-width="1.2" stroke-dasharray="2.4 3.8"/>
<line x1="722.9" y1="1981.3" x2="811.1" y2="2318.2" stroke="#9e9e9e" stroke-width="1.2" stroke-dasharray="2.4 3.8"/>
<line x1="664.1" y1="1981.3" x2="575.9" y2="2318.2" stroke="#9e9e9e" stroke-width="1.2" stroke-dasharray="2.4 3.8"/>
<line x1="583.7" y1="1899.1" x2="254.5" y2="1989.4" stroke="#9e9e9e" stroke-width="1.2" stroke-dasharray="2.4 3.8"/>
<line x1="583.7" y1="1838.9" x2="254.5" y2="1748.6" stroke="#9e9e9e" stroke-width="1.2" stroke-dasharray="2.4 3.8"/>
<line x1="774.1" y1="1786.5" x2="1015.9" y2="1539.1" stroke="#888" stroke-width="1.6"/>
<line x1="608.6" y1="1955.8" x2="364.0" y2="2206.1" stroke="#888" stroke-width="1.6"/>
<g filter="url(#soft)">
<path d="M693.5,1869.0L742.8,1840.4A56.7,58.0 0 0 1 750.2,1868.0Z" fill="#06302c"/>
<path d="M742.8,1840.4L804.6,1804.7A127.6,130.5 0 0 1 821.1,1866.7L750.2,1868.0A56.7,58.0 0 0 0 742.8,1840.4Z" fill="#fb3f9c"/>
<path d="M804.6,1804.7L810.7,1801.1A134.7,137.8 0 0 1 828.2,1866.6L821.1,1866.7A127.6,130.5 0 0 0 804.6,1804.7Z" fill="#ffb3e0"/>
<path d="M810.7,1801.1L816.9,1797.6A141.8,145.1 0 0 1 835.3,1866.5L828.2,1866.6A134.7,137.8 0 0 0 810.7,1801.1Z" fill="#3a10a8"/>
<path d="M816.9,1797.6L870.6,1766.5A203.5,208.2 0 0 1 897.0,1865.4L835.3,1866.5A141.8,145.1 0 0 0 816.9,1797.6Z" fill="#0f6cf5"/>
<path d="M870.6,1766.5L1050.3,1662.4A410.0,419.5 0 0 1 1103.4,1861.7L897.0,1865.4A203.5,208.2 0 0 0 870.6,1766.5Z" fill="#d24ff2"/>
<path d="M1050.3,1662.4L1087.8,1640.8A453.0,463.5 0 0 1 1146.4,1860.9L1103.4,1861.7A410.0,419.5 0 0 0 1050.3,1662.4Z" fill="#62bbfc"/>
<path d="M696.0,1864.6L708.6,1842.5A30.0,30.7 0 0 1 718.6,1852.2L697.7,1866.2A5.0,5.1 0 0 0 696.0,1864.6Z" fill="#fb3f9c"/>
<path d="M708.6,1842.5L716.7,1828.4A46.0,47.1 0 0 1 732.0,1843.2L718.6,1852.2A30.0,30.7 0 0 0 708.6,1842.5Z" fill="#ffb3e0"/>
<path d="M716.7,1828.4L718.2,1825.7A49.0,50.1 0 0 1 734.5,1841.5L732.0,1843.2A46.0,47.1 0 0 0 716.7,1828.4Z" fill="#3a10a8"/>
<path d="M705.5,1869.0L758.5,1869.0A65.0,66.5 0 0 1 749.8,1902.3L703.9,1875.1A12.0,12.3 0 0 0 705.5,1869.0Z" fill="#ffb3e0"/>
<path d="M758.5,1869.0L760.5,1869.0A67.0,68.5 0 0 1 751.5,1903.3L749.8,1902.3A65.0,66.5 0 0 0 758.5,1869.0Z" fill="#3a10a8"/>
<path d="M760.5,1869.0L778.5,1869.0A85.0,87.0 0 0 1 767.1,1912.5L751.5,1903.3A67.0,68.5 0 0 0 760.5,1869.0Z" fill="#d24ff2"/>
<path d="M778.5,1869.0L785.5,1869.0A92.0,94.1 0 0 1 773.2,1916.1L767.1,1912.5A85.0,87.0 0 0 0 778.5,1869.0Z" fill="#6a7af5"/>
<path d="M697.5,1872.1L722.3,1891.2A36.0,36.8 0 0 1 710.4,1901.5L695.8,1873.5A5.0,5.1 0 0 0 697.5,1872.1Z" fill="#0a1a1a"/>
<path d="M722.3,1891.2L728.6,1896.1A44.0,45.0 0 0 1 714.2,1908.7L710.4,1901.5A36.0,36.8 0 0 0 722.3,1891.2Z" fill="#d090f0"/>
<path d="M685.5,1869.0L660.5,1869.0A33.0,33.8 0 0 1 664.1,1853.7L686.4,1865.3A8.0,8.2 0 0 0 685.5,1869.0Z" fill="#d24ff2"/>
<path d="M660.5,1869.0L647.5,1869.0A46.0,47.1 0 0 1 652.5,1847.6L664.1,1853.7A33.0,33.8 0 0 0 660.5,1869.0Z" fill="#3a8eea"/>
<path d="M688.5,1877.9L683.5,1886.7A20.0,20.5 0 0 1 677.3,1881.0L685.4,1875.0A10.0,10.2 0 0 0 688.5,1877.9Z" fill="#d24ff2"/>
<path d="M683.5,1886.7L678.0,1896.5A31.0,31.7 0 0 1 668.4,1887.6L677.3,1881.0A20.0,20.5 0 0 0 683.5,1886.7Z" fill="#6060f0"/>
<path d="M691.4,1864.4L688.4,1857.9A12.0,12.3 0 0 1 691.8,1856.8L692.8,1863.9A5.0,5.1 0 0 0 691.4,1864.4Z" fill="#a040e0"/>
<path d="M688.4,1857.9L685.5,1851.4A19.0,19.4 0 0 1 690.9,1849.8L691.8,1856.8A12.0,12.3 0 0 0 688.4,1857.9Z" fill="#2a2a90"/>
<path d="M693.1,1874.1L692.1,1885.3A16.0,16.4 0 0 1 686.7,1883.8L691.4,1873.6A5.0,5.1 0 0 0 693.1,1874.1Z" fill="#d24ff2"/>
</g>
<text transform="translate(560.4,1381.8) rotate(-15)" text-anchor="middle" font-size="36" textLength="50" lengthAdjust="spacingAndGlyphs" dy="13.0" stroke="#111" stroke-width="0.75">UK</text>
<text transform="translate(821.6,1379.8) rotate(15)" text-anchor="middle" font-size="36" textLength="134" lengthAdjust="spacingAndGlyphs" dy="13.0" stroke="#111" stroke-width="0.75">Norway</text>
<text transform="translate(1043.5,1510.9) rotate(45)" text-anchor="middle" font-size="36" textLength="44" lengthAdjust="spacingAndGlyphs" dy="13.0" stroke="#111" stroke-width="0.75">EU</text>
<text transform="translate(1171.6,1737.9) rotate(75)" text-anchor="middle" font-size="36" textLength="100" lengthAdjust="spacingAndGlyphs" dy="13.0" stroke="#111" stroke-width="0.75">China</text>
<text transform="translate(1171.6,2000.1) rotate(-75)" text-anchor="middle" font-size="36" textLength="221" lengthAdjust="spacingAndGlyphs" dy="13.0" font-style="italic" stroke="#111" stroke-width="0.75">RestofWorld</text>
<text transform="translate(1043.5,2227.1) rotate(-45)" text-anchor="middle" font-size="36" textLength="103" lengthAdjust="spacingAndGlyphs" dy="13.0" stroke="#111" stroke-width="0.75">Korea</text>
<text transform="translate(821.6,2358.2) rotate(-15)" text-anchor="middle" font-size="36" textLength="99" lengthAdjust="spacingAndGlyphs" dy="13.0" stroke="#111" stroke-width="0.75">Japan</text>
<text transform="translate(565.4,2358.2) rotate(15)" text-anchor="middle" font-size="36" textLength="71" lengthAdjust="spacingAndGlyphs" dy="13.0" font-style="italic" stroke="#111" stroke-width="0.75">USA</text>
<text transform="translate(340.5,2227.1) rotate(45)" text-anchor="middle" font-size="36" textLength="121" lengthAdjust="spacingAndGlyphs" dy="13.0" stroke="#111" stroke-width="0.75">ASEAN</text>
<text transform="translate(217.4,1997.1) rotate(75)" text-anchor="middle" font-size="36" textLength="66" lengthAdjust="spacingAndGlyphs" dy="13.0" stroke="#111" stroke-width="0.75">EEU</text>
<text transform="translate(215.4,1731.9) rotate(-75)" text-anchor="middle" font-size="36" textLength="89" lengthAdjust="spacingAndGlyphs" dy="13.0" font-style="italic" stroke="#111" stroke-width="0.75">India</text>
<text transform="translate(337.5,1502.9) rotate(-45)" text-anchor="middle" font-size="36" textLength="80" lengthAdjust="spacingAndGlyphs" dy="13.0" stroke="#111" stroke-width="0.75">GCC</text>
<text x="514" y="1301.2" font-size="44" textLength="293.5" lengthAdjust="spacingAndGlyphs" fill="#222">c) 2030 import</text>
<text x="18.8" y="1403.6" font-size="36" textLength="97.6" lengthAdjust="spacingAndGlyphs" stroke="#111" stroke-width="0.6">1.2E+9</text>
<text x="18.8" y="1518.5" font-size="36" textLength="98.5" lengthAdjust="spacingAndGlyphs" stroke="#111" stroke-width="0.6">9.0E+8</text>
<text x="20.8" y="1635.2" font-size="36" textLength="97.9" lengthAdjust="spacingAndGlyphs" stroke="#111" stroke-width="0.6">6.0E+8</text>
<text x="23.2" y="1753" font-size="36" textLength="99.0" lengthAdjust="spacingAndGlyphs" stroke="#111" stroke-width="0.6">3.0E+8</text>
<text x="25.5" y="1872.6" font-size="36" textLength="101.0" lengthAdjust="spacingAndGlyphs" stroke="#111" stroke-width="0.6">0.0E+0</text>
<g transform="translate(254.6,2416.2)">
<rect x="0" y="0" width="49" height="30.5" fill="#52aef6" filter="url(#soft)"/>
<text x="65.2" y="25.3" font-size="26" textLength="142.0" lengthAdjust="spacingAndGlyphs" fill="#111" stroke="#111" stroke-width="0.45">Oth ind&amp;ser</text>
<rect x="0" y="36" width="49" height="30.5" fill="#ffa6d6" filter="url(#soft)"/>
<text x="65.2" y="61.3" font-size="26" textLength="86.0" lengthAdjust="spacingAndGlyphs" fill="#111" stroke="#111" stroke-width="0.45">Oil pcts</text>
<rect x="217.1" y="-1" width="49" height="30.5" fill="#c646f0" filter="url(#soft)"/>
<text x="282.3" y="24.3" font-size="26" textLength="108.5" lengthAdjust="spacingAndGlyphs" fill="#111" stroke="#111" stroke-width="0.45">En Int ind</text>
<rect x="217.1" y="35" width="49" height="30.5" fill="#fb3593" filter="url(#soft)"/>
<text x="282.3" y="60.3" font-size="26" textLength="41.6" lengthAdjust="spacingAndGlyphs" fill="#111" stroke="#111" stroke-width="0.45">Gas</text>
<rect x="400.8" y="-1.6" width="49" height="30.5" fill="#0f62ee" filter="url(#soft)"/>
<text x="466.0" y="23.7" font-size="26" textLength="119.0" lengthAdjust="spacingAndGlyphs" fill="#111" stroke="#111" stroke-width="0.45">Tec int ind</text>
<rect x="400.8" y="34.4" width="49" height="30.5" fill="#12918f" filter="url(#soft)"/>
<text x="466.0" y="59.7" font-size="26" textLength="31.0" lengthAdjust="spacingAndGlyphs" fill="#111" stroke="#111" stroke-width="0.45">Oil</text>
<rect x="592.1" y="3.8" width="49" height="30.5" fill="#4a12b8" filter="url(#soft)"/>
<text x="657.3000000000001" y="29.1" font-size="26" textLength="110.0" lengthAdjust="spacingAndGlyphs" fill="#111" stroke="#111" stroke-width="0.45">Electricity</text>
<rect x="592.1" y="39.8" width="49" height="30.5" fill="#072c2c" filter="url(#soft)"/>
<text x="657.3000000000001" y="65.1" font-size="26" textLength="50.0" lengthAdjust="spacingAndGlyphs" fill="#111" stroke="#111" stroke-width="0.45">Coal</text>
<rect x="773.7" y="39.4" width="49" height="30.5" fill="#000000" filter="url(#soft)"/>
<text x="838.9000000000001" y="64.7" font-size="26" textLength="130.0" lengthAdjust="spacingAndGlyphs" fill="#111" stroke="#111" stroke-width="0.45">Agriculture</text>
</g>
</g>
<g>
<ellipse cx="1889.5" cy="1864.5" rx="115.8" ry="115.8" fill="none" stroke="#c2c2c2" stroke-width="1.1" stroke-dasharray="6 6"/>
<ellipse cx="1889.5" cy="1864.5" rx="231.5" ry="231.5" fill="none" stroke="#c2c2c2" stroke-width="1.1" stroke-dasharray="6 6"/>
<ellipse cx="1889.5" cy="1864.5" rx="347.2" ry="347.2" fill="none" stroke="#c2c2c2" stroke-width="1.1" stroke-dasharray="6 6"/>
<ellipse cx="1889.5" cy="1864.5" rx="463.0" ry="463.0" fill="none" stroke="#c2c2c2" stroke-width="1.1" stroke-dasharray="6 6"/>
<path d="M1878.5,1749.3A115.8,115.8 0 0 1 1900.5,1749.3" fill="none" stroke="#a4a4a4" stroke-width="1.3"/>
<path d="M2004.7,1853.5A115.8,115.8 0 0 1 2004.7,1875.5" fill="none" stroke="#a4a4a4" stroke-width="1.3"/>
<path d="M1900.5,1979.7A115.8,115.8 0 0 1 1878.5,1979.7" fill="none" stroke="#a4a4a4" stroke-width="1.3"/>
<path d="M1774.3,1875.5A115.8,115.8 0 0 1 1774.3,1853.5" fill="none" stroke="#a4a4a4" stroke-width="1.3"/>
<path d="M1878.5,1633.3A231.5,231.5 0 0 1 1900.5,1633.3" fill="none" stroke="#a4a4a4" stroke-width="1.3"/>
<path d="M2120.7,1853.5A231.5,231.5 0 0 1 2120.7,1875.5" fill="none" stroke="#a4a4a4" stroke-width="1.3"/>
<path d="M1900.5,2095.7A231.5,231.5 0 0 1 1878.5,2095.7" fill="none" stroke="#a4a4a4" stroke-width="1.3"/>
<path d="M1658.3,1875.5A231.5,231.5 0 0 1 1658.3,1853.5" fill="none" stroke="#a4a4a4" stroke-width="1.3"/>
<path d="M1878.5,1517.4A347.2,347.2 0 0 1 1900.5,1517.4" fill="none" stroke="#a4a4a4" stroke-width="1.3"/>
<path d="M2236.6,1853.5A347.2,347.2 0 0 1 2236.6,1875.5" fill="none" stroke="#a4a4a4" stroke-width="1.3"/>
<path d="M1900.5,2211.6A347.2,347.2 0 0 1 1878.5,2211.6" fill="none" stroke="#a4a4a4" stroke-width="1.3"/>
<path d="M1542.4,1875.5A347.2,347.2 0 0 1 1542.4,1853.5" fill="none" stroke="#a4a4a4" stroke-width="1.3"/>
<path d="M1878.5,1401.6A463.0,463.0 0 0 1 1900.5,1401.6" fill="none" stroke="#a4a4a4" stroke-width="1.3"/>
<path d="M2352.4,1853.5A463.0,463.0 0 0 1 2352.4,1875.5" fill="none" stroke="#a4a4a4" stroke-width="1.3"/>
<path d="M1900.5,2327.4A463.0,463.0 0 0 1 1878.5,2327.4" fill="none" stroke="#a4a4a4" stroke-width="1.3"/>
<path d="M1426.6,1875.5A463.0,463.0 0 0 1 1426.6,1853.5" fill="none" stroke="#a4a4a4" stroke-width="1.3"/>
<line x1="1859.5" y1="1752.7" x2="1769.7" y2="1417.3" stroke="#9e9e9e" stroke-width="1.2" stroke-dasharray="2.4 3.8"/>
<line x1="1919.5" y1="1752.7" x2="2009.3" y2="1417.3" stroke="#9e9e9e" stroke-width="1.2" stroke-dasharray="2.4 3.8"/>
<line x1="2001.3" y1="1834.5" x2="2336.7" y2="1744.7" stroke="#9e9e9e" stroke-width="1.2" stroke-dasharray="2.4 3.8"/>
<line x1="2001.3" y1="1894.5" x2="2336.7" y2="1984.3" stroke="#9e9e9e" stroke-width="1.2" stroke-dasharray="2.4 3.8"/>
<line x1="1919.5" y1="1976.3" x2="2009.3" y2="2311.7" stroke="#9e9e9e" stroke-width="1.2" stroke-dasharray="2.4 3.8"/>
<line x1="1859.5" y1="1976.3" x2="1769.7" y2="2311.7" stroke="#9e9e9e" stroke-width="1.2" stroke-dasharray="2.4 3.8"/>
<line x1="1777.7" y1="1894.5" x2="1442.3" y2="1984.3" stroke="#9e9e9e" stroke-width="1.2" stroke-dasharray="2.4 3.8"/>
<line x1="1777.7" y1="1834.5" x2="1442.3" y2="1744.7" stroke="#9e9e9e" stroke-width="1.2" stroke-dasharray="2.4 3.8"/>
<line x1="1806.8" y1="1781.8" x2="1562.1" y2="1537.1" stroke="#777" stroke-width="1.6"/>
<line x1="1975.8" y1="1950.8" x2="2224.7" y2="2199.7" stroke="#777" stroke-width="1.6"/>
<line x1="2096.7" y1="1657.3" x2="2219.7" y2="1534.3" stroke="#999" stroke-width="1.4"/>
<line x1="1678.8" y1="2075.2" x2="1555.0" y2="2199.0" stroke="#999" stroke-width="1.4"/>
<g filter="url(#soft)">
<path d="M1892.1,1860.2L1922.8,1809.0A64.7,64.7 0 0 1 1945.8,1832.6L1893.9,1862.0A5.0,5.0 0 0 0 1892.1,1860.2Z" fill="#fb3f9c"/>
<path d="M1922.8,1809.0L1932.4,1793.1A83.3,83.3 0 0 1 1962.0,1823.5L1945.8,1832.6A64.7,64.7 0 0 0 1922.8,1809.0Z" fill="#ffb3e0"/>
<path d="M1932.4,1793.1L1934.3,1789.9A87.0,87.0 0 0 1 1965.2,1821.7L1962.0,1823.5A83.3,83.3 0 0 0 1932.4,1793.1Z" fill="#3a10a8"/>
<path d="M1889.5,1864.5L1927.0,1843.5A43.0,43.0 0 0 1 1932.5,1864.0Z" fill="#06302c"/>
<path d="M1927.0,1843.5L2028.8,1786.3A159.7,159.7 0 0 1 2049.2,1862.5L1932.5,1864.0A43.0,43.0 0 0 0 1927.0,1843.5Z" fill="#fb3f9c"/>
<path d="M2028.8,1786.3L2043.4,1778.1A176.5,176.5 0 0 1 2066.0,1862.3L2049.2,1862.5A159.7,159.7 0 0 0 2028.8,1786.3Z" fill="#ffb3e0"/>
<path d="M2043.4,1778.1L2048.0,1775.6A181.7,181.7 0 0 1 2071.2,1862.3L2066.0,1862.3A176.5,176.5 0 0 0 2043.4,1778.1Z" fill="#3a10a8"/>
<path d="M2048.0,1775.6L2085.5,1754.5A224.8,224.8 0 0 1 2114.3,1861.8L2071.2,1862.3A181.7,181.7 0 0 0 2048.0,1775.6Z" fill="#0f6cf5"/>
<path d="M2085.5,1754.5L2231.4,1672.7A392.0,392.0 0 0 1 2281.5,1859.7L2114.3,1861.8A224.8,224.8 0 0 0 2085.5,1754.5Z" fill="#d24ff2"/>
<path d="M2231.4,1672.7L2257.9,1657.7A422.5,422.5 0 0 1 2312.0,1859.3L2281.5,1859.7A392.0,392.0 0 0 0 2231.4,1672.7Z" fill="#62bbfc"/>
<path d="M1907.5,1865.1L2011.2,1868.8A121.8,121.8 0 0 1 1995.0,1925.4L1905.1,1873.5A18.0,18.0 0 0 0 1907.5,1865.1Z" fill="#ffb3e0"/>
<path d="M2011.2,1868.8L2014.4,1868.9A125.0,125.0 0 0 1 1997.8,1927.0L1995.0,1925.4A121.8,121.8 0 0 0 2011.2,1868.8Z" fill="#3a10a8"/>
<path d="M2014.4,1868.9L2024.9,1869.2A135.5,135.5 0 0 1 2006.8,1932.2L1997.8,1927.0A125.0,125.0 0 0 0 2014.4,1868.9Z" fill="#0f6cf5"/>
<path d="M2024.9,1869.2L2053.4,1870.2A164.0,164.0 0 0 1 2031.5,1946.5L2006.8,1932.2A135.5,135.5 0 0 0 2024.9,1869.2Z" fill="#d24ff2"/>
<path d="M2053.4,1870.2L2061.7,1870.5A172.3,172.3 0 0 1 2038.7,1950.6L2031.5,1946.5A164.0,164.0 0 0 0 2053.4,1870.2Z" fill="#62bbfc"/>
<path d="M1893.6,1867.4L1922.3,1887.4A40.0,40.0 0 0 1 1909.5,1899.1L1892.0,1868.8A5.0,5.0 0 0 0 1893.6,1867.4Z" fill="#06302c"/>
<path d="M1922.3,1887.4L1934.6,1896.0A55.0,55.0 0 0 1 1917.0,1912.1L1909.5,1899.1A40.0,40.0 0 0 0 1922.3,1887.4Z" fill="#fb3f9c"/>
<path d="M1934.6,1896.0L1937.0,1897.8A58.0,58.0 0 0 1 1918.5,1914.7L1917.0,1912.1A55.0,55.0 0 0 0 1934.6,1896.0Z" fill="#3a10a8"/>
<path d="M1889.2,1872.5L1888.1,1904.5A40.0,40.0 0 0 1 1871.3,1900.1L1885.9,1871.6A8.0,8.0 0 0 0 1889.2,1872.5Z" fill="#ffb3e0"/>
<path d="M1888.1,1904.5L1888.0,1907.5A43.0,43.0 0 0 1 1870.0,1902.8L1871.3,1900.1A40.0,40.0 0 0 0 1888.1,1904.5Z" fill="#3a10a8"/>
<path d="M1888.0,1907.5L1887.5,1922.5A58.0,58.0 0 0 1 1863.2,1916.2L1870.0,1902.8A43.0,43.0 0 0 0 1888.0,1907.5Z" fill="#8040f0"/>
<path d="M1882.6,1874.3L1879.7,1878.4A17.0,17.0 0 0 1 1874.8,1873.0L1879.1,1870.5A12.0,12.0 0 0 0 1882.6,1874.3Z" fill="#3a10a8"/>
<path d="M1879.7,1878.4L1867.1,1896.4A39.0,39.0 0 0 1 1855.7,1884.0L1874.8,1873.0A17.0,17.0 0 0 0 1879.7,1878.4Z" fill="#7040e0"/>
<path d="M1881.5,1864.5L1851.5,1864.5A38.0,38.0 0 0 1 1855.6,1847.2L1882.4,1860.9A8.0,8.0 0 0 0 1881.5,1864.5Z" fill="#d24ff2"/>
<path d="M1851.5,1864.5L1837.5,1864.5A52.0,52.0 0 0 1 1843.2,1840.9L1855.6,1847.2A38.0,38.0 0 0 0 1851.5,1864.5Z" fill="#3a7eea"/>
<path d="M1887.4,1860.0L1878.9,1841.8A25.0,25.0 0 0 1 1888.6,1839.5L1889.3,1859.5A5.0,5.0 0 0 0 1887.4,1860.0Z" fill="#ffb3e0"/>
<path d="M1878.1,1840.0L1876.0,1835.5A32.0,32.0 0 0 1 1888.4,1832.5L1888.6,1837.5A27.0,27.0 0 0 0 1878.1,1840.0Z" fill="#3a10a8"/>
<path d="M1891.6,1869.0L1898.4,1883.5A21.0,21.0 0 0 1 1890.2,1885.5L1889.7,1869.5A5.0,5.0 0 0 0 1891.6,1869.0Z" fill="#fb3f9c"/>
</g>
<text transform="translate(1761.4,1381.4) rotate(-15)" text-anchor="middle" font-size="36" textLength="50" lengthAdjust="spacingAndGlyphs" dy="13.0" stroke="#111" stroke-width="0.75">UK</text>
<text transform="translate(2017.6,1383.4) rotate(15)" text-anchor="middle" font-size="36" textLength="134" lengthAdjust="spacingAndGlyphs" dy="13.0" stroke="#111" stroke-width="0.75">Norway</text>
<text transform="translate(2245.5,1499.5) rotate(45)" text-anchor="middle" font-size="36" textLength="44" lengthAdjust="spacingAndGlyphs" dy="13.0" stroke="#111" stroke-width="0.75">EU</text>
<text transform="translate(2377.6,1736.4) rotate(75)" text-anchor="middle" font-size="36" textLength="100" lengthAdjust="spacingAndGlyphs" dy="13.0" stroke="#111" stroke-width="0.75">China</text>
<text transform="translate(2377.6,1998.6) rotate(-75)" text-anchor="middle" font-size="36" textLength="221" lengthAdjust="spacingAndGlyphs" dy="13.0" font-style="italic" stroke="#111" stroke-width="0.75">RestofWorld</text>
<text transform="translate(2251.5,2214.5) rotate(-45)" text-anchor="middle" font-size="36" textLength="103" lengthAdjust="spacingAndGlyphs" dy="13.0" stroke="#111" stroke-width="0.75">Korea</text>
<text transform="translate(2017.6,2350.6) rotate(-15)" text-anchor="middle" font-size="36" textLength="99" lengthAdjust="spacingAndGlyphs" dy="13.0" stroke="#111" stroke-width="0.75">Japan</text>
<text transform="translate(1755.4,2345.6) rotate(15)" text-anchor="middle" font-size="36" textLength="71" lengthAdjust="spacingAndGlyphs" dy="13.0" font-style="italic" stroke="#111" stroke-width="0.75">USA</text>
<text transform="translate(1531.5,2222.5) rotate(45)" text-anchor="middle" font-size="36" textLength="121" lengthAdjust="spacingAndGlyphs" dy="13.0" stroke="#111" stroke-width="0.75">ASEAN</text>
<text transform="translate(1405.4,1995.6) rotate(75)" text-anchor="middle" font-size="36" textLength="66" lengthAdjust="spacingAndGlyphs" dy="13.0" stroke="#111" stroke-width="0.75">EEU</text>
<text transform="translate(1408.4,1733.4) rotate(-75)" text-anchor="middle" font-size="36" textLength="89" lengthAdjust="spacingAndGlyphs" dy="13.0" font-style="italic" stroke="#111" stroke-width="0.75">India</text>
<text transform="translate(1537.5,1508.5) rotate(-45)" text-anchor="middle" font-size="36" textLength="80" lengthAdjust="spacingAndGlyphs" dy="13.0" stroke="#111" stroke-width="0.75">GCC</text>
<text x="1664.6" y="1316.7" font-size="44" textLength="386.6" lengthAdjust="spacingAndGlyphs" fill="#222">d) 2030BAU import</text>
<text x="1216" y="1410.2" font-size="35" textLength="100.5" lengthAdjust="spacingAndGlyphs" stroke="#111" stroke-width="0.6">2.0E+9</text>
<text x="1217.2" y="1526" font-size="35" textLength="97.8" lengthAdjust="spacingAndGlyphs" stroke="#111" stroke-width="0.6">1.5E+9</text>
<text x="1217.2" y="1643.9" font-size="35" textLength="97.3" lengthAdjust="spacingAndGlyphs" stroke="#111" stroke-width="0.6">1.0E+9</text>
<text x="1215.1" y="1761.2" font-size="35" textLength="98.5" lengthAdjust="spacingAndGlyphs" stroke="#111" stroke-width="0.6">5.0E+8</text>
<text x="1213.1" y="1877" font-size="35" textLength="100.5" lengthAdjust="spacingAndGlyphs" stroke="#111" stroke-width="0.6">0.0E+0</text>
<line x1="1335.3" y1="1399.2" x2="1335.3" y2="1862.5" stroke="#4a4a4a" stroke-width="2"/>
<g transform="translate(1463.7,2423.9)">
<rect x="0" y="0" width="49" height="30.5" fill="#52aef6" filter="url(#soft)"/>
<text x="65.2" y="25.3" font-size="26" textLength="144.8" lengthAdjust="spacingAndGlyphs" fill="#111" stroke="#111" stroke-width="0.45">Oth ind&amp;ser</text>
<rect x="0" y="36" width="49" height="30.5" fill="#ffa6d6" filter="url(#soft)"/>
<text x="65.2" y="61.3" font-size="26" textLength="87.7" lengthAdjust="spacingAndGlyphs" fill="#111" stroke="#111" stroke-width="0.45">Oil pcts</text>
<rect x="216" y="-1.1" width="49" height="30.5" fill="#c646f0" filter="url(#soft)"/>
<text x="281.2" y="24.2" font-size="26" textLength="110.7" lengthAdjust="spacingAndGlyphs" fill="#111" stroke="#111" stroke-width="0.45">En Int ind</text>
<rect x="216" y="34.9" width="49" height="30.5" fill="#fb3593" filter="url(#soft)"/>
<text x="281.2" y="60.2" font-size="26" textLength="42.4" lengthAdjust="spacingAndGlyphs" fill="#111" stroke="#111" stroke-width="0.45">Gas</text>
<rect x="401.9" y="-5.5" width="49" height="30.5" fill="#0f62ee" filter="url(#soft)"/>
<text x="467.09999999999997" y="19.8" font-size="26" textLength="121.4" lengthAdjust="spacingAndGlyphs" fill="#111" stroke="#111" stroke-width="0.45">Tec int ind</text>
<rect x="401.9" y="30.5" width="49" height="30.5" fill="#12918f" filter="url(#soft)"/>
<text x="467.09999999999997" y="55.8" font-size="26" textLength="31.6" lengthAdjust="spacingAndGlyphs" fill="#111" stroke="#111" stroke-width="0.45">Oil</text>
<rect x="600.3" y="-1.1" width="49" height="30.5" fill="#4a12b8" filter="url(#soft)"/>
<text x="665.5" y="24.2" font-size="26" textLength="112.2" lengthAdjust="spacingAndGlyphs" fill="#111" stroke="#111" stroke-width="0.45">Electricity</text>
<rect x="600.3" y="34.9" width="49" height="30.5" fill="#072c2c" filter="url(#soft)"/>
<text x="665.5" y="60.2" font-size="26" textLength="51.0" lengthAdjust="spacingAndGlyphs" fill="#111" stroke="#111" stroke-width="0.45">Coal</text>
<rect x="790.1" y="32.8" width="49" height="30.5" fill="#000000" filter="url(#soft)"/>
<text x="855.3000000000001" y="58.1" font-size="26" textLength="132.6" lengthAdjust="spacingAndGlyphs" fill="#111" stroke="#111" stroke-width="0.45">Agriculture</text>
</g>
</g>
</svg>
</body></html>
